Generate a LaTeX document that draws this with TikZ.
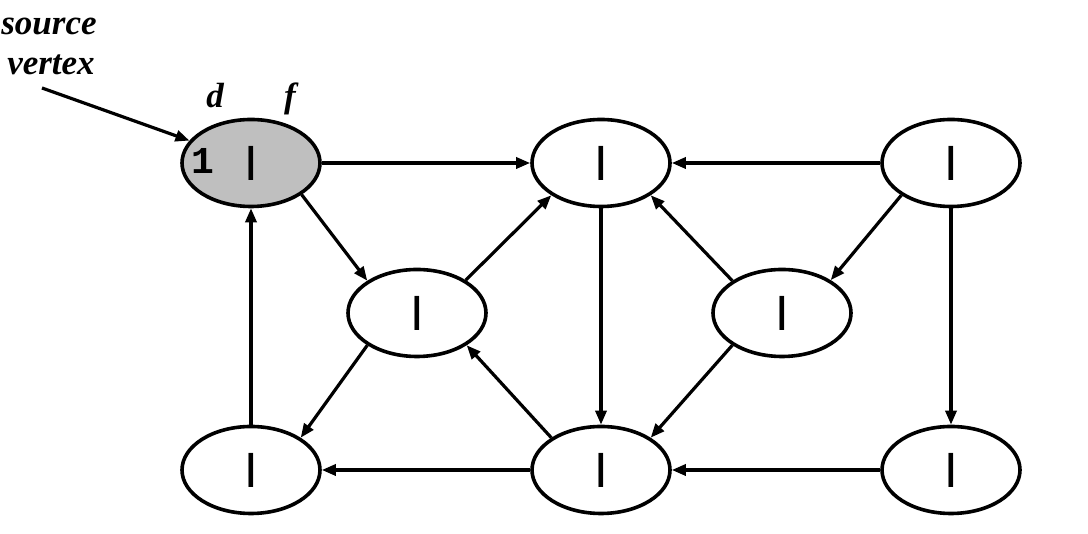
\documentclass[tikz,border=0pt]{standalone}
\usepackage{fontspec}
\setmainfont{Liberation Serif}
\setmonofont{Liberation Mono}
\usetikzlibrary{arrows.meta,shapes.geometric}
\definecolor{srcgray}{RGB}{191,191,191}
\tikzset{
  vtx/.style={ellipse,draw=black,line width=3.6pt,minimum width=138pt,minimum height=87pt,inner sep=0pt,fill=white,font=\fontsize{36}{36}\selectfont\ttfamily\bfseries},
  conn/.style={line width=3.2pt,-{Triangle[length=14pt,width=11pt]}},
  lbl/.style={font=\fontsize{35}{40}\selectfont\bfseries\itshape,inner sep=0pt,anchor=base}
}
\begin{document}
\begin{tikzpicture}[x=1pt,y=1pt]
\useasboundingbox (0,0) rectangle (1088,534);
\node[vtx,fill=srcgray] (A) at (251,371) {|};
\node[vtx] (B) at (601,371) {|};
\node[vtx] (C) at (951,371) {|};
\node[vtx] (D) at (417,221) {|};
\node[vtx] (E) at (782,221) {|};
\node[vtx] (F) at (251,64) {|};
\node[vtx] (G) at (601,64) {|};
\node[vtx] (H) at (951,64) {|};
\node[font=\fontsize{38}{38}\selectfont\ttfamily\bfseries,inner sep=0pt] (Aone) at (203,373.5) {1};
\node[lbl] (src1) at (49,499) {source};
\node[lbl] (src2) at (51,459) {vertex};
\node[lbl] (dl) at (215,426) {d};
\node[lbl] (fl) at (290,426) {f};
\coordinate (srcend) at (42,446);
\draw[conn] (srcend) -- (A.160);
\draw[conn] (A) -- (B);
\draw[conn] (C) -- (B);
\draw[conn] (A.-32) -- (D.147);
\draw[conn] (D.34) -- (B.-147);
\draw[conn] (D.-147) -- (F.33);
\draw[conn] (G.147) -- (D.-33);
\draw[conn] (E.147) -- (B.-33);
\draw[conn] (C.-147) -- (E.34);
\draw[conn] (E.-147) -- (G.33);
\draw[conn] (B) -- (G);
\draw[conn] (C) -- (H);
\draw[conn] (F) -- (A);
\draw[conn] (G) -- (F);
\draw[conn] (H) -- (G);
\end{tikzpicture}
\end{document}
